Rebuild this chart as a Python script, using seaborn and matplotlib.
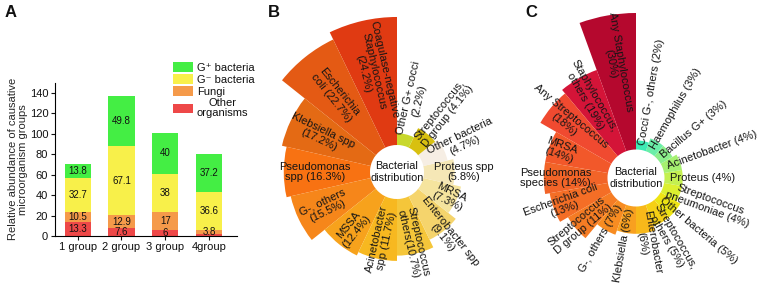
import numpy as np
import pandas as pd
import matplotlib
matplotlib.use("Agg")
import matplotlib.pyplot as plt
from matplotlib.patches import Patch
import seaborn as sns

# ---------------- data ----------------
# Panel A: stacked bars
groups = ["1 group", "2 group", "3 group", "4group"]
other_org = [13.3, 7.6, 6.0, 2.2]
fungi = [10.5, 12.9, 17.0, 3.8]
g_neg = [32.7, 67.1, 38.0, 36.6]
g_pos = [13.8, 49.8, 40.0, 37.2]
legend_names = ["G\u207a bacteria", "G\u207b bacteria", "Fungi", "Other\norganisms"]

# Panel B: bacterial distribution
b_labels = ["Coagulase-negative\nStaphylococcus\n(24.2%)", "Escherichia\ncoli (22.7%)",
            "Klebsiella spp\n(17.2%)", "Pseudomonas\nspp (16.3%)", "G-, others\n(15.5%)",
            "MSSA\n(12.4%)", "Acinetobacter\nspp (11.7%)", "Streptococcus\nothers(10.7%)",
            "Enterobacter spp\n(9.1%)", "MRSA\n(7.3%)", "Proteus spp\n(5.8%)",
            "Other bacteria\n(4.7%)", "Streptococcus,\nD group (4.1%)", "Other G+ cocci\n(2.2%)"]
b_values = [24.2, 22.7, 17.2, 16.3, 15.5, 12.4, 11.7, 10.7, 9.1, 7.3, 5.8, 4.7, 4.1, 2.2]

# Panel C: bacterial distribution
c_labels = ["Any Staphylococcus\n(30%)", "Staphylococcus,\nothers (19%)", "Any Streptococcus\n(18%)",
            "MRSA\n(14%)", "Pseudomonas\nspecies (14%)", "Escherichia coli\n(13%)",
            "Streptococcus\nD group (11%)", "G-, others (7%)", "Klebsiella (6%)",
            "Enterobacter\n(6%)", "Streptococcus,\nothers (5%)", "Other bacteria (5%)",
            "Streptococcus\npneumoniae (4%)", "Proteus (4%)", "Acinetobacter (4%)",
            "Bacillus G+ (3%)", "Haemophilus (3%)", "Cocci G-, others (2%)"]
c_values = [30, 19, 18, 14, 14, 13, 11, 7, 6, 6, 5, 5, 4, 4, 4, 3, 3, 2]

# ---------------- styles ----------------
col_pos, col_neg, col_fun, col_oth = "#44EE44", "#F8F04A", "#F59A4A", "#EE4848"
b_colors = ["#E03A12", "#E45A14", "#E46A14", "#F87212", "#F6861A", "#F7A21C", "#F7B820",
            "#F5C63A", "#F5D46C", "#F5E49E", "#F5E7B6", "#F6EEE4", "#D8C010", "#C8D82C"]
c_colors = ["#B5082E", "#D41438", "#F04A30", "#F2582A", "#F26428", "#F46E26", "#F57C24",
            "#F78C22", "#F8A020", "#F8B81A", "#F5D014", "#EEE414", "#DCF030", "#C4F050",
            "#A6F070", "#8CEE8C", "#6AEEA8", "#3CEBB4"]

sns.set_theme(style="ticks")
plt.rcParams["font.family"] = ["Liberation Sans", "DejaVu Sans"]
plt.rcParams["axes.linewidth"] = 0.8
plt.rcParams["axes.edgecolor"] = "black"
plt.rcParams["text.color"] = "#111111"

W, H = 760, 286
fig = plt.figure(figsize=(W / 100, H / 100), dpi=100)

# ---------------- panel A ----------------
axA = fig.add_axes([54.5 / W, (H - 236) / H, 182.5 / W, (236 - 82.7) / H])
df = pd.DataFrame({"group": groups, "other": other_org, "fungi": fungi,
                   "gneg": g_neg, "gpos": g_pos})
df["c1"] = df["other"]
df["c2"] = df["c1"] + df["fungi"]
df["c3"] = df["c2"] + df["gneg"]
df["c4"] = df["c3"] + df["gpos"]
for col, c in [("c4", col_pos), ("c3", col_neg), ("c2", col_fun), ("c1", col_oth)]:
    sns.barplot(data=df, x="group", y=col, color=c, saturation=1, width=0.6,
                linewidth=0, ax=axA)
for i in range(len(groups)):
    base = 0.0
    for v in [other_org[i], fungi[i], g_neg[i], g_pos[i]]:
        if v > 3:
            axA.text(i, base + v / 2, f"{v:g}", ha="center", va="center", fontsize=7,
                     color="#111111")
        base += v
axA.set_xlim(-0.53, 3.64)
axA.set_ylim(0, 150)
axA.set_yticks(np.arange(0, 141, 20))
axA.set_xlabel("")
axA.set_ylabel("Relative abundance of causative\nmicroorganism groups", fontsize=8,
               labelpad=1, linespacing=1.0)
axA.tick_params(axis="both", direction="out", length=3, width=0.8, labelsize=8, pad=1.5,
                colors="#111111")
sns.despine(ax=axA)
handles = [Patch(facecolor=c, edgecolor="none") for c in [col_pos, col_neg, col_fun, col_oth]]
leg = axA.legend(handles, legend_names, loc="upper left", bbox_to_anchor=(173 / W, 1 - 62 / H),
                 bbox_transform=fig.transFigure, frameon=False, fontsize=8,
                 handlelength=1.8, handleheight=1.0, handletextpad=0.35,
                 labelspacing=0.12, borderpad=0, borderaxespad=0)
for t in leg.get_texts():
    t.set_multialignment("center")
    t.set_linespacing(1.0)

renderer = fig.canvas.get_renderer()


def polar_panel(cx, cy, k, hole, labels, values, colors, mid_add, pad_r, pad_l):
    R = 172.0
    ax = fig.add_axes([(cx - R) / W, (H - cy - R) / H, 2 * R / W, 2 * R / H],
                      projection="polar")
    ax.set_theta_offset(np.pi / 2)
    ax.set_theta_direction(1)
    ax.set_ylim(0, R / k)
    n = len(values)
    width = 2 * np.pi / n
    theta = np.arange(n) * width + width / 2
    ax.bar(theta, values, width=width, bottom=hole / k, color=colors, linewidth=0,
           align="center")
    ax.set_axis_off()
    for i, (lab, v) in enumerate(zip(labels, values)):
        phi = (90 + np.degrees(theta[i])) % 360
        left = np.cos(np.radians(phi)) < 0
        if left:
            rot = phi - 180
        else:
            rot = phi if phi <= 90 else phi - 360
        t = ax.text(theta[i], 0, lab, fontsize=8, ha="center", va="center",
                    rotation=0, rotation_mode="anchor", multialignment="center",
                    linespacing=1.05, color="#151515")
        w = t.get_window_extent(renderer).width
        outer = hole + v * k
        pad = pad_l if left else pad_r
        rc = max(0.5 * (hole + outer) + mid_add, hole + pad + w / 2)
        t.set_position((theta[i], rc / k))
        t.set_rotation(rot)
    ax.text(0, 0, "Bacterial\ndistribution", ha="center", va="center", fontsize=7.8,
            color="#111111")
    return ax


polar_panel(397, 172, 5.29, 27, b_labels, b_values, b_colors, 12, 10, 6)
polar_panel(636, 178, 4.55, 28.5, c_labels, c_values, c_colors, 20, 5, 3)

for x, s in [(5, "A"), (268, "B"), (525, "C")]:
    fig.text(x / W, 1 - 5 / H, s, fontsize=12, fontweight="bold", ha="left", va="top")

fig.savefig("out.png", dpi=100)
